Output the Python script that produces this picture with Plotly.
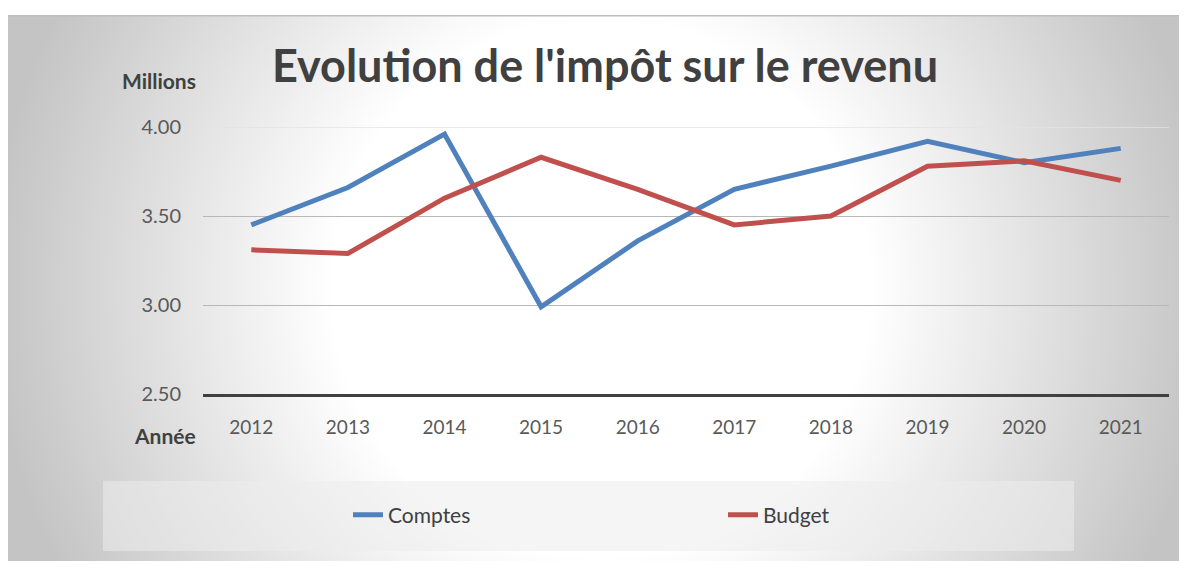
import base64
import plotly.graph_objects as go

years = ["2012", "2013", "2014", "2015", "2016", "2017", "2018", "2019", "2020", "2021"]
comptes = [3.45, 3.66, 3.96, 2.99, 3.36, 3.65, 3.78, 3.92, 3.80, 3.88]
budget = [3.31, 3.29, 3.60, 3.83, 3.65, 3.45, 3.50, 3.78, 3.81, 3.70]
y_ticks = [2.5, 3.0, 3.5, 4.0]
y_tick_labels = ["2.50", "3.00", "3.50", "4.00"]

W, H = 1187, 561
L, R, T, B = 195, 26, 119, 175
pw, ph = W - L - R, H - T - B

def px_x(x):
    return (x - L) / pw

def px_y(y):
    return (H - B - y) / ph

BOX_TOP = 7
bw, bh = W, H - BOX_TOP
svg = f'''<svg xmlns="http://www.w3.org/2000/svg" width="{bw}" height="{bh}" viewBox="0 0 {bw} {bh}" preserveAspectRatio="none">
<defs><radialGradient id="g" cx="593" cy="273" r="610" gradientUnits="userSpaceOnUse">
<stop offset="0" stop-color="#ffffff"/><stop offset="0.44" stop-color="#ffffff"/><stop offset="1" stop-color="#c4c4c4"/></radialGradient></defs>
<rect x="0" y="0" width="{bw}" height="{bh}" fill="url(#g)"/>
<line x1="0" y1="0.75" x2="{bw}" y2="0.75" stroke="#bdbdbd" stroke-width="1.5"/>
</svg>'''
src = "data:image/svg+xml;base64," + base64.b64encode(svg.encode()).decode()

fig = go.Figure()
fig.add_trace(go.Scatter(x=years, y=comptes, mode="lines", name="Comptes",
                         line=dict(color="#4f81bd", width=5)))
fig.add_trace(go.Scatter(x=years, y=budget, mode="lines", name="Budget",
                         line=dict(color="#c0504d", width=5)))

fig.add_layout_image(dict(source=src, xref="paper", yref="paper",
                          x=px_x(0), y=px_y(BOX_TOP), sizex=bw / pw, sizey=bh / ph,
                          xanchor="left", yanchor="top", sizing="stretch", layer="below"))

# legend background box
fig.add_shape(type="rect", xref="paper", yref="paper",
              x0=px_x(95), x1=px_x(1066), y0=px_y(543), y1=px_y(473),
              fillcolor="rgba(236,236,236,0.55)", line=dict(width=0), layer="below")
# lighter top gridline
fig.add_shape(type="line", xref="paper", yref="y", x0=0, x1=1, y0=4.0, y1=4.0,
              line=dict(color="#e3e3e3", width=1.3), layer="below")

fig.update_layout(
    width=W, height=H,
    margin=dict(l=L, r=R, t=T, b=B, pad=0),
    paper_bgcolor="white", plot_bgcolor="rgba(0,0,0,0)",
    font=dict(family="Lato", color="#595959", size=19),
    title=dict(text="<b>Evolution de l'impôt sur le revenu</b>", xref="container", yref="container",
               x=597 / W, y=1 - 58 / H, xanchor="center", yanchor="middle",
               font=dict(family="Lato", size=45, color="#404040")),
    xaxis=dict(type="category", range=[-0.5, 9.5], showgrid=False, showline=True,
               linecolor="#404040", linewidth=3,
               ticks="", tickfont=dict(size=19, color="#595959"), ticklabelstandoff=14,
               zeroline=False, fixedrange=True),
    yaxis=dict(range=[2.5, 4.0], tickvals=y_ticks, ticktext=y_tick_labels, showgrid=True,
               gridcolor="#b8b8b8", gridwidth=1.3, zeroline=False, showline=False, ticks="",
               tickfont=dict(size=20, color="#595959"), ticklabelstandoff=21, fixedrange=True),
    legend=dict(orientation="h", x=px_x(340), y=px_y(507), xanchor="left", yanchor="middle",
                bgcolor="rgba(0,0,0,0)", font=dict(size=21, color="#404040"),
                entrywidth=330, entrywidthmode="pixels", itemwidth=30),
    showlegend=True,
)

fig.add_annotation(text="<b>Millions</b>", xref="paper", yref="paper", x=px_x(151), y=px_y(72),
                   showarrow=False, font=dict(size=21, color="#404040"), xanchor="center", yanchor="middle")
fig.add_annotation(text="<b>Année</b>", xref="paper", yref="paper", x=px_x(157), y=px_y(427),
                   showarrow=False, font=dict(size=21, color="#404040"), xanchor="center", yanchor="middle")

fig.write_html("out.html")
